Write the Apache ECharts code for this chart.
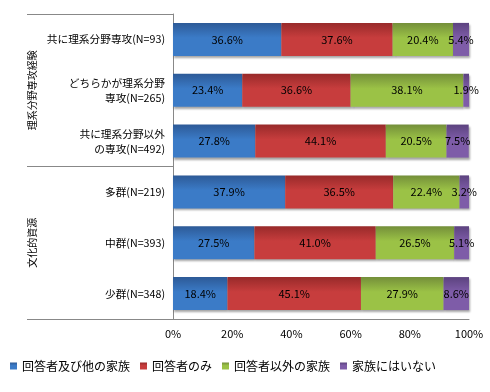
<!DOCTYPE html>
<html><head><meta charset="utf-8">
<script src="https://cdn.jsdelivr.net/npm/echarts@6/dist/echarts.min.js"></script>
<style>html,body{margin:0;padding:0;background:#fff}#c{width:490px;height:392px}</style>
</head><body><div id="c"></div>
<script>
const categories = ['共に理系分野専攻(N=93)', 'どちらかが理系分野\n専攻(N=265)', '共に理系分野以外\nの専攻(N=492)', '多群(N=219)', '中群(N=393)', '少群(N=348)'];
const groups = ['理系分野専攻経験', '文化的資源'];
const seriesNames = ['回答者及び他の家族', '回答者のみ', '回答者以外の家族', '家族にはいない'];
const s1 = [36.6, 23.4, 27.8, 37.9, 27.5, 18.4];
const s2 = [37.6, 36.6, 44.1, 36.5, 41.0, 45.1];
const s3 = [20.4, 38.1, 20.5, 22.4, 26.5, 27.9];
const s4 = [5.4, 1.9, 7.5, 3.2, 5.1, 8.6];
const values = [s1, s2, s3, s4];
const colorsTop = ['#2d5a97', '#982a2a', '#748f3a', '#5c437f'];
const colorsMain = ['#3b7bc7', '#c73d3d', '#9bc246', '#7e5ca8'];
const font = '"Noto Sans CJK JP", sans-serif';

const chart = echarts.init(document.getElementById('c'));
const grid = {left: 173, right: 21, top: 14, bottom: 73};
chart.setOption({
  animation: false,
  textStyle: {fontFamily: font},
  grid: grid,
  xAxis: {
    type: 'value', min: 0, max: 100, interval: 20,
    axisLabel: {formatter: '{value}%', color: '#000', fontSize: 11, margin: 9, fontFamily: font},
    axisLine: {show: true, lineStyle: {color: '#888'}},
    axisTick: {show: false},
    splitLine: {show: false}
  },
  yAxis: [{
    type: 'category', data: categories, inverse: true,
    axisLine: {show: true, lineStyle: {color: '#888'}},
    axisTick: {show: false},
    axisLabel: {color: '#000', fontSize: 10.7, margin: 8, lineHeight: 15, align: 'right', fontFamily: font}
  }, {
    type: 'category', data: groups, inverse: true, position: 'left', offset: 146,
    axisLine: {show: false},
    axisTick: {show: true, inside: true, length: 146, lineStyle: {color: '#888'}},
    axisLabel: {inside: true, rotate: 90, color: '#000', fontSize: 10, margin: 0, fontFamily: font}
  }],
  legend: {
    left: 5, top: 355, itemWidth: 7, itemHeight: 7, itemGap: 10,
    icon: 'rect',
    textStyle: {fontSize: 12, color: '#000', fontFamily: font},
    data: seriesNames
  },
  series: seriesNames.map((n, i) => ({
    name: n, type: 'bar', stack: 'total', yAxisIndex: 0,
    barCategoryGap: '35%',
    data: values[i],
    itemStyle: {
      color: new echarts.graphic.LinearGradient(0, 0, 0, 1, [
        {offset: 0, color: colorsTop[i]},
        {offset: 0.45, color: colorsMain[i]},
        {offset: 1, color: colorsMain[i]}
      ]),
      shadowColor: 'rgba(0,0,0,0.35)', shadowOffsetY: 2, shadowOffsetX: 1, shadowBlur: 2
    },
    label: {
      show: true, position: 'inside', color: '#000', fontSize: 11, fontFamily: font,
      formatter: p => p.value.toFixed(1) + '%'
    }
  }))
});
</script></body></html>
